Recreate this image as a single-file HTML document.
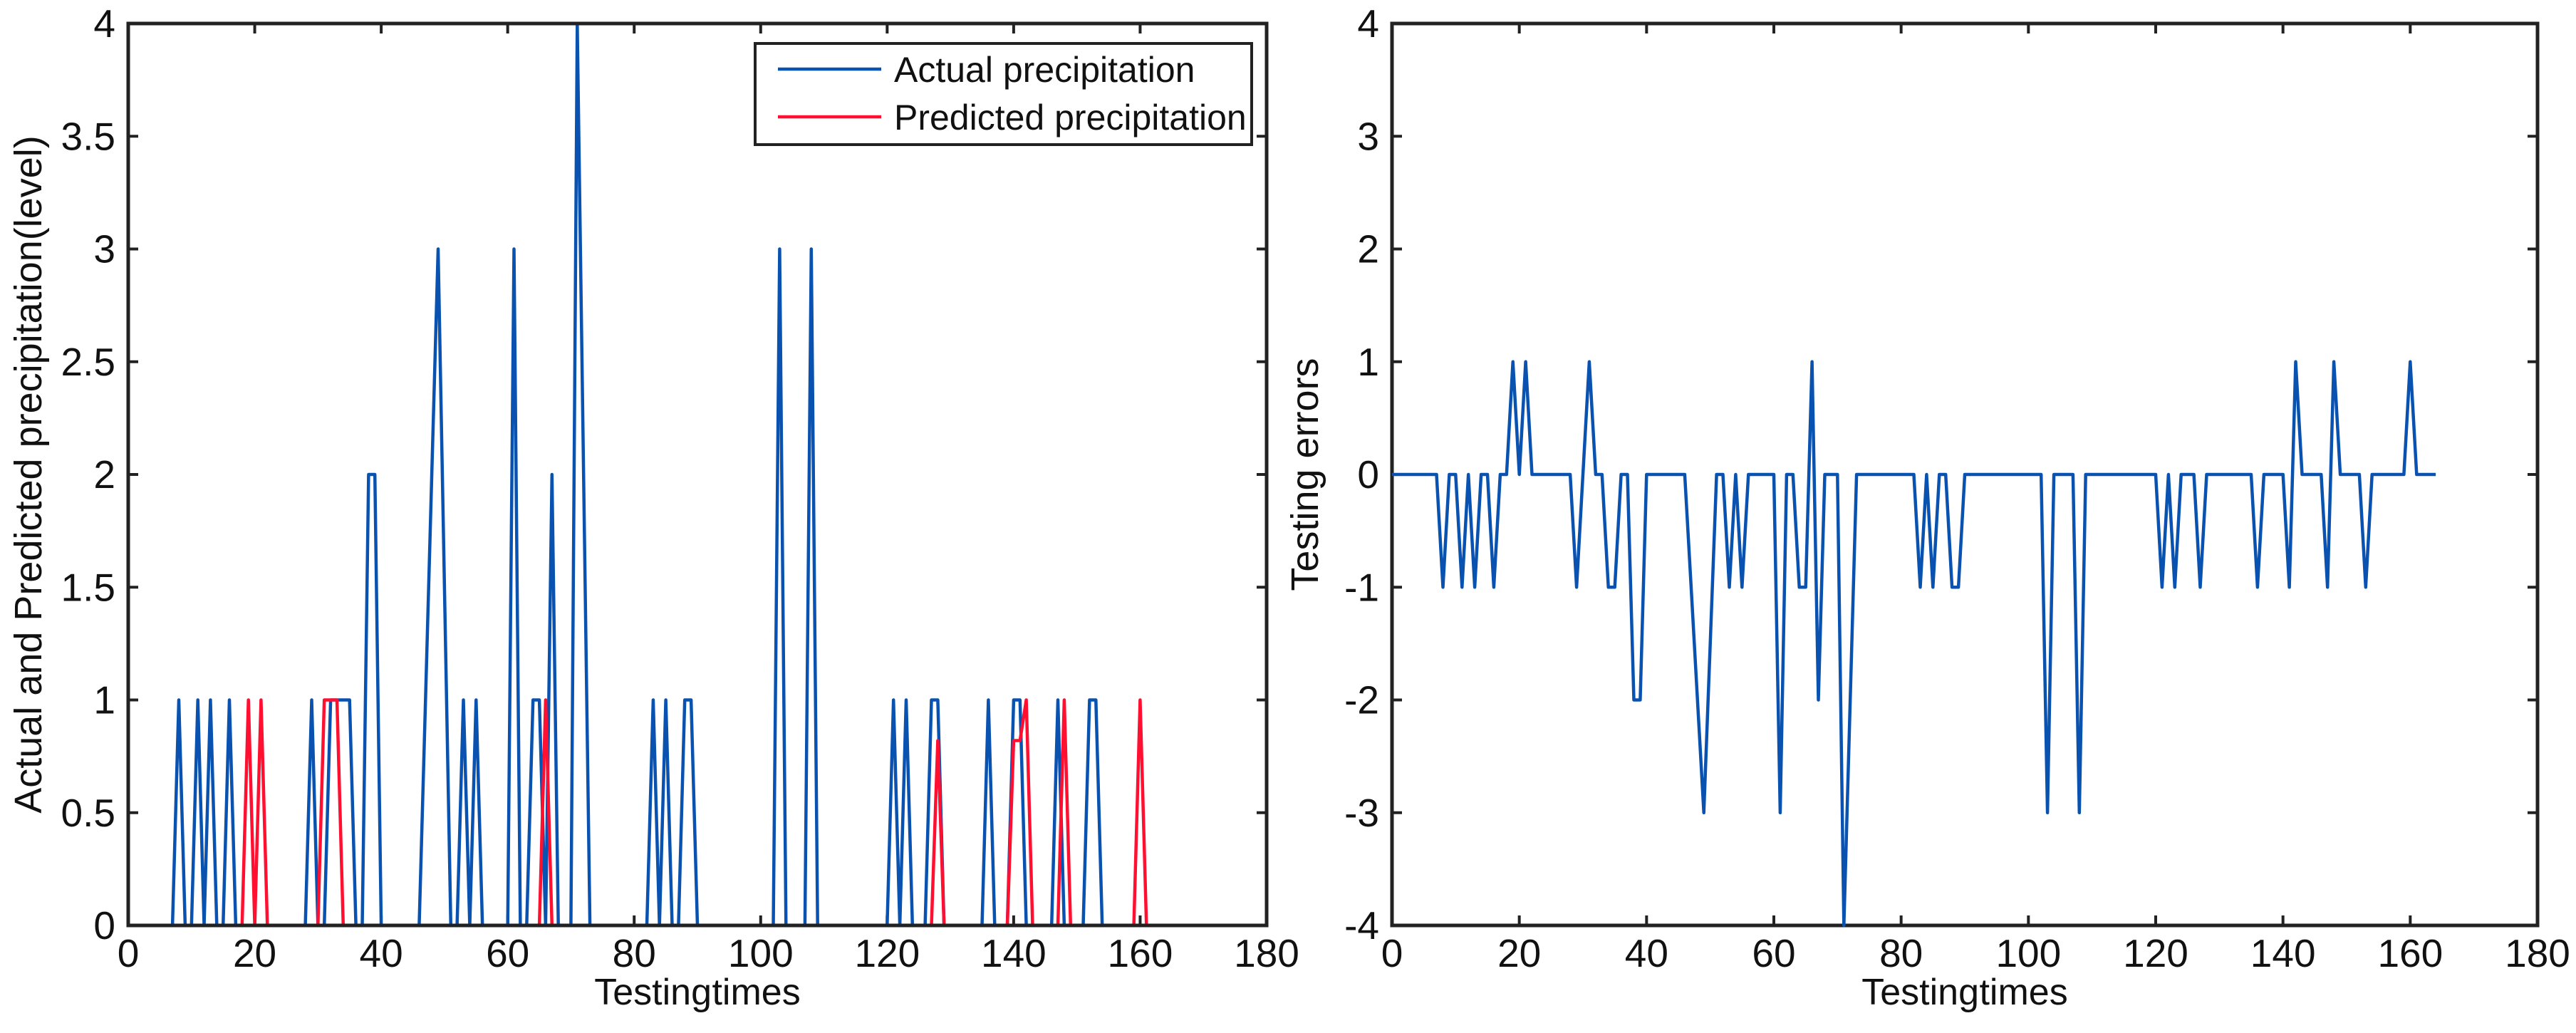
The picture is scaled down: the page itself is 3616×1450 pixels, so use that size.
<!DOCTYPE html>
<html><head><meta charset="utf-8"><style>
html,body{margin:0;padding:0;background:#fff;}
svg{display:block;font-family:"Liberation Sans",Arial,sans-serif;}
</style></head><body>
<svg id="chart" width="3616" height="1450" viewBox="0 0 3616 1450" xmlns="http://www.w3.org/2000/svg">
<g id="p1"></g>
<g id="p2"></g>
</svg>
<script>
// Data (sparse: index -> value, all other indices are 0)
const actualIdx = [8,11,13,16,29,32,33,34,35,38,39,47,48,49,50,53,55,61,64,65,67,71,72,83,85,88,89,103,108,121,123,127,128,136,140,141,147,152,153];
const actualVal = [1,1,1,1,1,1,1,1,1,2,2,1,2,3,1.5,1,1,3,1,1,2,4,2,1,1,1,1,3,3,1,1,1,1,1,1,1,1,1,1];
const predIdx = [19,21,31,32,33,66,128,140,141,142,148,160];
const predVal = [1,1,1,1,1,1,0.82,0.82,0.82,1,1,1];
const errIdx = [8,11,13,16,19,21,29,31,34,35,38,39,47,48,49,50,53,55,61,64,65,66,67,71,72,83,85,88,89,103,108,121,123,127,136,141,142,147,148,153,160];
const errVal = [-1,-1,-1,-1,1,1,-1,1,-1,-1,-2,-2,-1,-2,-3,-1.5,-1,-1,-3,-1,-1,1,-2,-4,-2,-1,-1,-1,-1,-3,-3,-1,-1,-1,-1,-1,1,-1,1,-1,1];
const seriesLength = 164;
const xTicks = [0,20,40,60,80,100,120,140,160,180];
const y1Ticks = [0,0.5,1,1.5,2,2.5,3,3.5,4];
const y2Ticks = [-4,-3,-2,-1,0,1,2,3,4];

const NS = "http://www.w3.org/2000/svg";
function mk(parent, tag, attrs, text){
  const e = document.createElementNS(NS, tag);
  for (const k in attrs) e.setAttribute(k, attrs[k]);
  if (text !== undefined) e.textContent = text;
  parent.appendChild(e);
  return e;
}
function dense(idx, val){
  const a = new Array(seriesLength+1).fill(0);
  idx.forEach((i,k)=>{ a[i] = val[k]; });
  return a;
}
function panel(g, box, ymin, ymax, yTicks, yTitle, yTitleX){
  const sx = v => box.l + (v - 0) / 180 * (box.r - box.l);
  const sy = v => box.b - (v - ymin) / (ymax - ymin) * (box.b - box.t);
  const axes = mk(g, "rect", {x:box.l, y:box.t, width:box.r-box.l, height:box.b-box.t, fill:"none", stroke:"#222", "stroke-width":5});
  
  
  xTicks.forEach(t => {
    const x = sx(t);
    const tk = mk(g, "path", {d:`M${x} ${box.b}V${box.b-14}M${x} ${box.t}V${box.t+14}`, stroke:"#222", "stroke-width":4});
    
    
    const lb = mk(g, "text", {x:x, y:1357, "font-size":55, "text-anchor":"middle", fill:"#111"}, String(t));
    
    
  });
  yTicks.forEach(t => {
    const y = sy(t);
    const tk = mk(g, "path", {d:`M${box.l} ${y}H${box.l+14}M${box.r} ${y}H${box.r-14}`, stroke:"#222", "stroke-width":4});
    
    
    const lb = mk(g, "text", {x:box.l-18, y:y+19, "font-size":55, "text-anchor":"end", fill:"#111"}, String(t));
    
    
  });
  const xt = mk(g, "text", {x:(box.l+box.r)/2, y:1410, "font-size":52, "text-anchor":"middle", fill:"#111", "word-spacing":"-14"}, "Testing times");
  
  
  const yt = mk(g, "text", {x:0, y:0, "font-size":54, "text-anchor":"middle", fill:"#111", transform:`translate(${yTitleX},${(box.t+box.b)/2}) rotate(-90)`}, yTitle);
  
  
  return {sx, sy};
}
function line(g, arr, sc, color, name){
  const pts = arr.map((v,i)=>`${sc.sx(i).toFixed(1)},${sc.sy(v).toFixed(1)}`).join(" ");
  const p = mk(g, "polyline", {points:pts, fill:"none", stroke:color, "stroke-width":4.5, "stroke-linejoin":"round"});
  
  
}

const g1 = document.getElementById("p1");
const box1 = {l:180, r:1778, t:33, b:1299};
const s1 = panel(g1, box1, 0, 4, y1Ticks, "Actual and Predicted precipitation(level)", 58);
line(g1, dense(actualIdx, actualVal), s1, "#0a52b0", "actual-precipitation-line");
line(g1, dense(predIdx, predVal), s1, "#ff1030", "predicted-precipitation-line");
const f1 = mk(g1, "rect", {x:box1.l, y:box1.t, width:box1.r-box1.l, height:box1.b-box1.t, fill:"none", stroke:"#222", "stroke-width":5});



const lg = mk(g1, "g", {});


mk(lg, "rect", {x:1060, y:61, width:697, height:142, fill:"#fff", stroke:"#222", "stroke-width":4});
const le1 = mk(lg, "line", {x1:1092, y1:97, x2:1237, y2:97, stroke:"#0a52b0", "stroke-width":4.5});


const lt1 = mk(lg, "text", {x:1255, y:115, "font-size":50, fill:"#111"}, "Actual precipitation");


const le2 = mk(lg, "line", {x1:1092, y1:164, x2:1237, y2:164, stroke:"#ff1030", "stroke-width":4.5});


const lt2 = mk(lg, "text", {x:1255, y:182, "font-size":50, fill:"#111"}, "Predicted precipitation");



const g2 = document.getElementById("p2");
const box2 = {l:1954, r:3562, t:33, b:1299};
const s2 = panel(g2, box2, -4, 4, y2Ticks, "Testing errors", 1850);
line(g2, dense(errIdx, errVal), s2, "#0a52b0", "testing-error-line");
</script>
</body></html>
